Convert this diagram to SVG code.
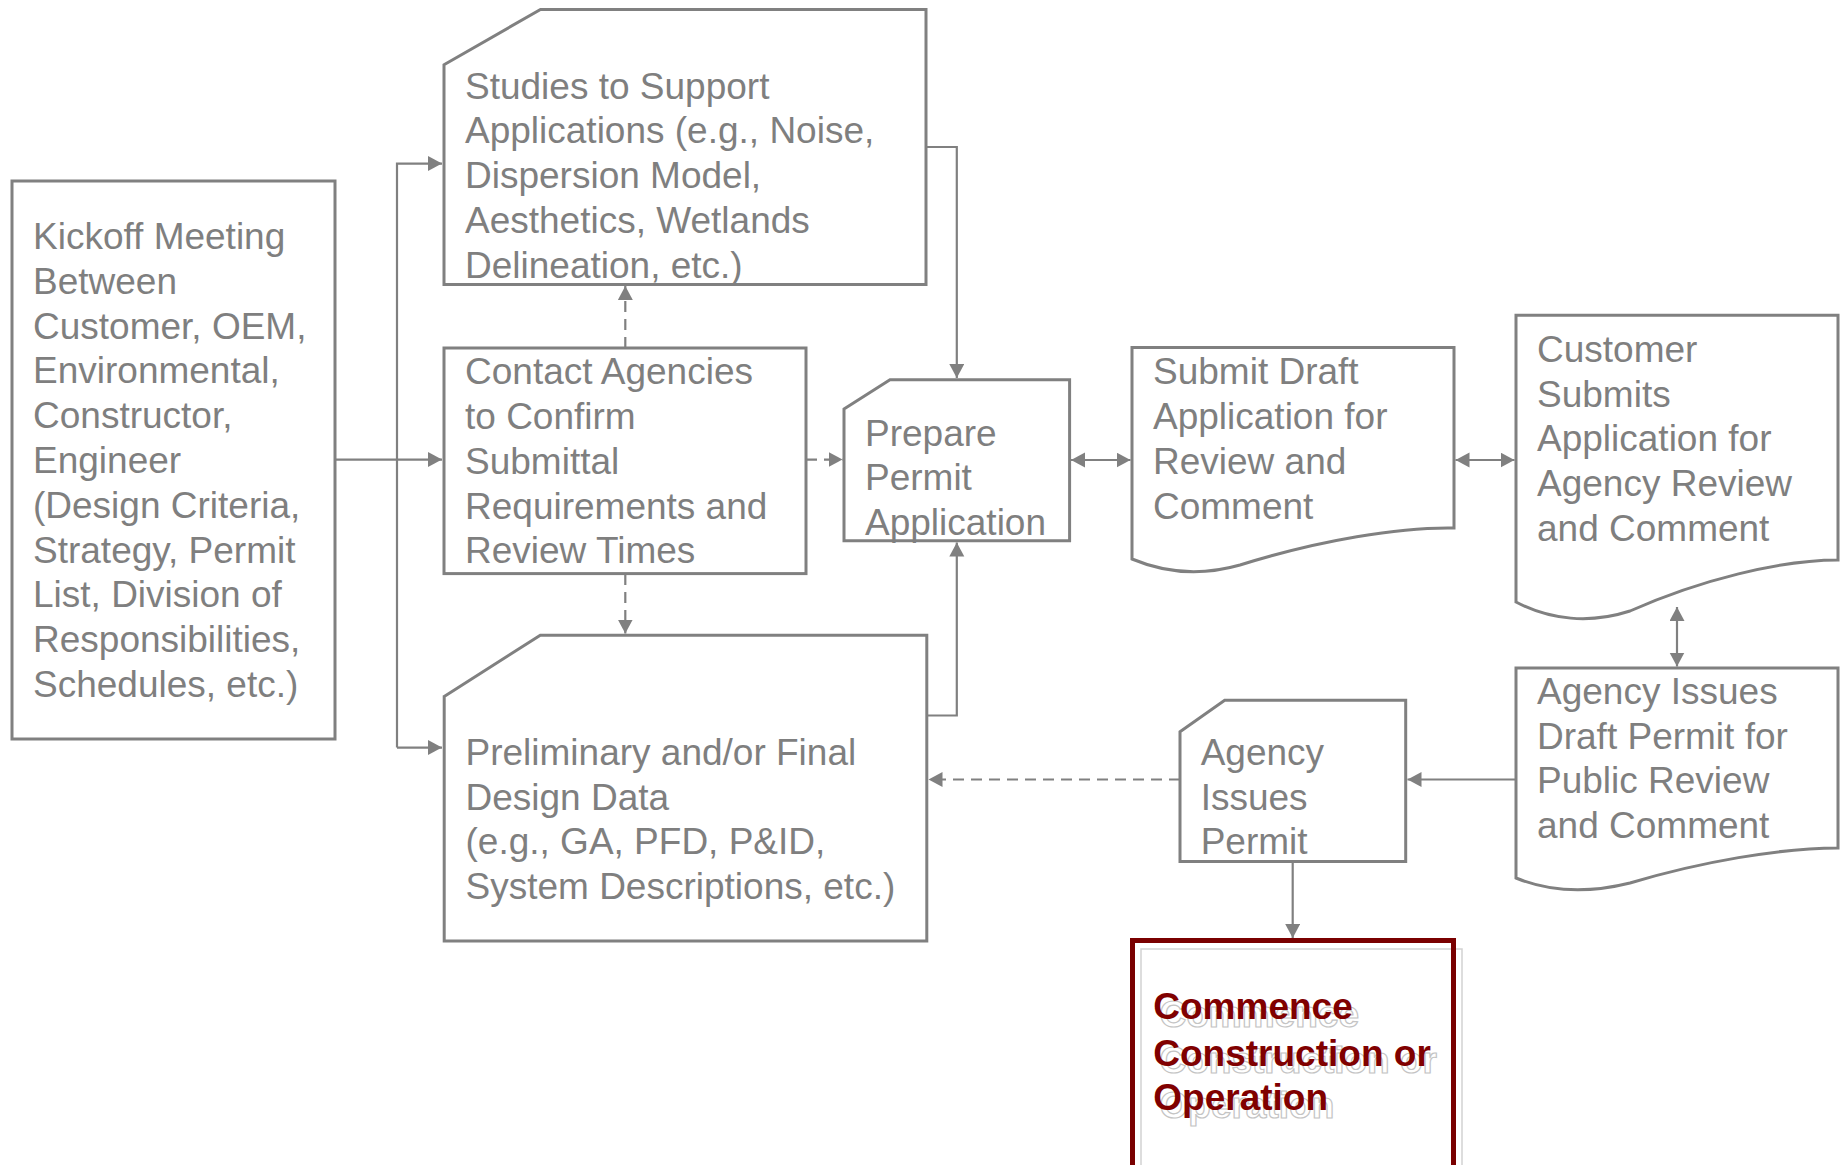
<svg xmlns="http://www.w3.org/2000/svg" width="1843" height="1165" viewBox="0 0 1843 1165">
<defs>
<style>
.box{fill:#ffffff;stroke:#808080;stroke-width:3}
.t{font-family:"Liberation Sans",Arial,sans-serif;font-size:37px;fill:#7f7f7f}
.c{fill:none;stroke:#808080;stroke-width:2.2}
.d{stroke-dasharray:11,7}
.rt{font-family:"Liberation Sans",Arial,sans-serif;font-size:37px;font-weight:bold;fill:#800000}
.st{font-family:"Liberation Sans",Arial,sans-serif;font-size:37px;font-weight:bold;fill:#ffffff;stroke:#c4c4c4;stroke-width:1.2}
</style>
<marker id="ah" markerUnits="userSpaceOnUse" markerWidth="16" markerHeight="16" refX="14" refY="7.5" orient="auto-start-reverse" viewBox="0 0 16 16">
<path d="M0,0 L14,7.5 L0,15 Z" fill="#808080"/>
</marker>
</defs>
<rect width="1843" height="1165" fill="#ffffff"/>

<g id="connectors">
<path class="c" d="M335,459.6 H442" marker-end="url(#ah)"/>
<path class="c" d="M397,747.6 V163.6 H442" marker-end="url(#ah)"/>
<path class="c" d="M397,747.6 H442" marker-end="url(#ah)"/>
<path class="c d" d="M625.3,348 V286" marker-end="url(#ah)"/>
<path class="c d" d="M625.3,574 V633.5" marker-end="url(#ah)"/>
<path class="c d" d="M806,459.6 H842.5" marker-end="url(#ah)"/>
<path class="c" d="M926,147 H956.8 V378" marker-end="url(#ah)"/>
<path class="c" d="M926,715.5 H956.8 V542.5" marker-end="url(#ah)"/>
<path class="c" d="M1071,460 H1130.5" marker-start="url(#ah)" marker-end="url(#ah)"/>
<path class="c" d="M1455.5,460 H1514.5" marker-start="url(#ah)" marker-end="url(#ah)"/>
<path class="c" d="M1677,607 V666.5" marker-start="url(#ah)" marker-end="url(#ah)"/>
<path class="c" d="M1516,779.5 H1407.5" marker-end="url(#ah)"/>
<path class="c d" d="M1180,779.5 H928.5" marker-end="url(#ah)"/>
<path class="c" d="M1292.7,861.4 V938" marker-end="url(#ah)"/>
</g>

<g id="kickoff">
<rect class="box" x="12" y="181" width="323" height="558"/>
<text class="t" x="33" y="249">Kickoff Meeting</text>
<text class="t" x="33" y="293.8">Between</text>
<text class="t" x="33" y="338.6">Customer, OEM,</text>
<text class="t" x="33" y="383.4">Environmental,</text>
<text class="t" x="33" y="428.2">Constructor,</text>
<text class="t" x="33" y="473">Engineer</text>
<text class="t" x="33" y="517.8">(Design Criteria,</text>
<text class="t" x="33" y="562.6">Strategy, Permit</text>
<text class="t" x="33" y="607.4">List, Division of</text>
<text class="t" x="33" y="652.2">Responsibilities,</text>
<text class="t" x="33" y="697">Schedules, etc.)</text>
</g>

<g id="studies">
<path class="box" d="M444,64.8 L540.5,9.4 H926 V284.5 H444 Z"/>
<text class="t" x="465" y="98.7">Studies to Support</text>
<text class="t" x="465" y="143.4">Applications (e.g., Noise,</text>
<text class="t" x="465" y="188.1">Dispersion Model,</text>
<text class="t" x="465" y="232.8">Aesthetics, Wetlands</text>
<text class="t" x="465" y="277.5">Delineation, etc.)</text>
</g>

<g id="contact">
<rect class="box" x="444" y="348" width="362" height="225.6"/>
<text class="t" x="465" y="384.4">Contact Agencies</text>
<text class="t" x="465" y="429.1">to Confirm</text>
<text class="t" x="465" y="473.8">Submittal</text>
<text class="t" x="465" y="518.5">Requirements and</text>
<text class="t" x="465" y="563.2">Review Times</text>
</g>

<g id="prepare">
<path class="box" d="M844,409 L890,379.7 H1069.6 V540.7 H844 Z"/>
<text class="t" x="865" y="445.5">Prepare</text>
<text class="t" x="865" y="490.2">Permit</text>
<text class="t" x="865" y="534.9">Application</text>
</g>

<g id="preliminary">
<path class="box" d="M444.2,696.4 L540.3,635.2 H926.8 V941 H444.2 Z"/>
<text class="t" x="465.5" y="765">Preliminary and/or Final</text>
<text class="t" x="465.5" y="809.7">Design Data</text>
<text class="t" x="465.5" y="854.4">(e.g., GA, PFD, P&amp;ID,</text>
<text class="t" x="465.5" y="899.1">System Descriptions, etc.)</text>
</g>

<g id="submit-draft">
<path class="box" d="M1132,347.5 H1454 V528 C1400,527 1320,540 1240,565 C1205,575 1170,575 1132,559 Z"/>
<text class="t" x="1153" y="384.4">Submit Draft</text>
<text class="t" x="1153" y="429.1">Application for</text>
<text class="t" x="1153" y="473.8">Review and</text>
<text class="t" x="1153" y="518.5">Comment</text>
</g>

<g id="customer-submits">
<path class="box" d="M1516,315.3 H1838 V560 C1780,560 1700,580 1630,611 C1590,624 1550,620 1516,602 Z"/>
<text class="t" x="1537" y="362">Customer</text>
<text class="t" x="1537" y="406.7">Submits</text>
<text class="t" x="1537" y="451.4">Application for</text>
<text class="t" x="1537" y="496.1">Agency Review</text>
<text class="t" x="1537" y="540.8">and Comment</text>
</g>

<g id="agency-draft">
<path class="box" d="M1516,668 H1838 V848 C1780,848 1700,862 1630,883 C1590,893 1550,892 1516,878 Z"/>
<text class="t" x="1537" y="704">Agency Issues</text>
<text class="t" x="1537" y="748.7">Draft Permit for</text>
<text class="t" x="1537" y="793.4">Public Review</text>
<text class="t" x="1537" y="838.1">and Comment</text>
</g>

<g id="agency-permit">
<path class="box" d="M1180,731.7 L1224.7,700.3 H1405.7 V861.4 H1180 Z"/>
<text class="t" x="1200.7" y="765">Agency</text>
<text class="t" x="1200.7" y="809.7">Issues</text>
<text class="t" x="1200.7" y="854.4">Permit</text>
</g>

<g id="commence">
<rect x="1141" y="949" width="321" height="240" fill="none" stroke="#d2d2d2" stroke-width="1.5"/>
<rect x="1132.5" y="940.5" width="321" height="250" fill="none" stroke="#7a0000" stroke-width="5"/>
<text class="st" x="1159.5" y="1026.5">Commence</text>
<text class="st" x="1159.5" y="1073">Construction or</text>
<text class="st" x="1159.5" y="1117.5">Operation</text>
<text class="rt" x="1153.3" y="1019.3">Commence</text>
<text class="rt" x="1153.3" y="1065.8">Construction or</text>
<text class="rt" x="1153.3" y="1110.3">Operation</text>
</g>
</svg>
